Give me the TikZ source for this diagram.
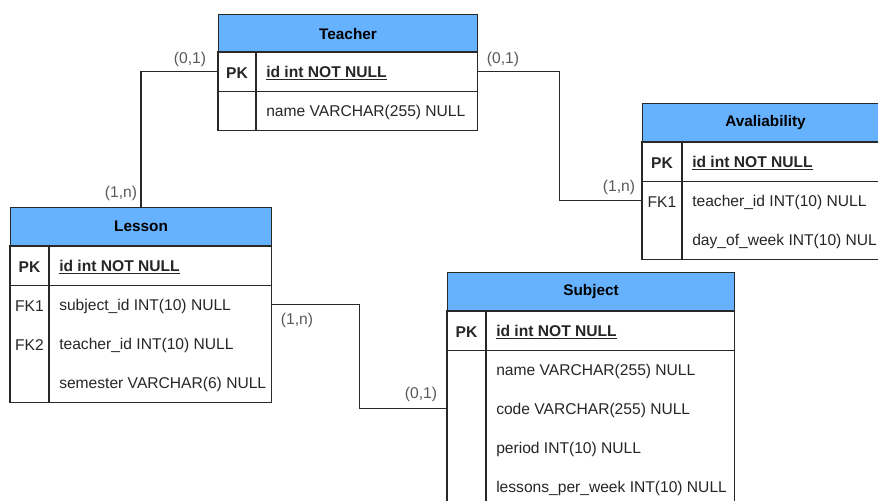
\documentclass[tikz,border=0pt]{standalone}
\usepackage{fontspec}
\setmainfont{Liberation Sans}
\definecolor{hdrblue}{RGB}{102,178,255}
\definecolor{linec}{RGB}{40,40,40}
\newcommand{\px}{0.75pt}
\newcommand{\erow}[7]{%
  \node[rowbox, minimum width=#4*\px] (#1) at (#2,#3) {};
  \node[keytxt, xshift=#5/2*\px] (#1k) at (#1.west) {#6};
  \node[fldtxt, xshift=(#5+10)*\px] (#1f) at (#1.west) {#7};
}
\tikzset{
  hdr/.style={draw=linec, fill=hdrblue, line width=0.8pt, minimum height=38*\px, inner sep=0pt, anchor=north west, font=\fontsize{11.5}{13}\selectfont\bfseries},
  rowbox/.style={minimum height=39*\px, inner sep=0pt, anchor=north west},
  keytxt/.style={font=\fontsize{11.7}{13}\selectfont, text=black!85, inner sep=0pt, yshift=-1.2pt},
  fldtxt/.style={font=\fontsize{11.7}{13}\selectfont, anchor=west, inner sep=0pt, text=black!85, yshift=-1.2pt},
  card/.style={font=\fontsize{11.7}{13}\selectfont, text=black!65, inner sep=0pt},
  conn/.style={draw=linec, line width=1pt},
  frame/.style={draw=linec, line width=0.8pt}
}
\begin{document}
\begin{tikzpicture}[x=0.75pt,y=-0.75pt]
\useasboundingbox (0,0) rectangle (878,500);
\clip (0,0) rectangle (878,500);
\fill[white] (0,0) rectangle (878,500);

% Teacher
\node[hdr, minimum width=259*\px] (teacher) at (218,14) {Teacher};
\erow{tpk}{218}{52}{259}{38}{\bfseries PK}{\bfseries\underline{id int NOT NULL}}
\erow{tname}{218}{91}{259}{38}{}{name VARCHAR(255) NULL}
\draw[frame] (tpk.north west) rectangle (tname.south east);
\draw[frame] (tpk.south west) -- (tpk.south east);
\draw[frame] ([xshift=38*\px]tpk.north west) -- ([xshift=38*\px]tname.south west);

% Lesson
\node[hdr, minimum width=261*\px] (lesson) at (10,207) {Lesson};
\erow{lpk}{10}{246}{261}{39}{\bfseries PK}{\bfseries\underline{id int NOT NULL}}
\erow{lsub}{10}{285}{261}{39}{FK1}{subject\_id INT(10) NULL}
\erow{lteach}{10}{324}{261}{39}{FK2}{teacher\_id INT(10) NULL}
\erow{lsem}{10}{363}{261}{39}{}{semester VARCHAR(6) NULL}
\draw[frame] (lpk.north west) rectangle (lsem.south east);
\draw[frame] (lpk.south west) -- (lpk.south east);
\draw[frame] ([xshift=39*\px]lpk.north west) -- ([xshift=39*\px]lsem.south west);

% Subject
\node[hdr, minimum width=287*\px] (subject) at (447,272) {Subject};
\erow{spk}{447}{311}{287}{39}{\bfseries PK}{\bfseries\underline{id int NOT NULL}}
\erow{sname}{447}{350}{287}{39}{}{name VARCHAR(255) NULL}
\erow{scode}{447}{389}{287}{39}{}{code VARCHAR(255) NULL}
\erow{sper}{447}{428}{287}{39}{}{period INT(10) NULL}
\erow{sles}{447}{467}{287}{39}{}{lessons\_per\_week INT(10) NULL}
\draw[frame] (spk.north west) rectangle (sles.south east);
\draw[frame] (spk.south west) -- (spk.south east);
\draw[frame] ([xshift=39*\px]spk.north west) -- ([xshift=39*\px]sles.south west);

% Avaliability
\node[hdr, minimum width=246*\px] (avail) at (642,103) {Avaliability};
\erow{apk}{642}{142}{246}{40}{\bfseries PK}{\bfseries\underline{id int NOT NULL}}
\erow{ateach}{642}{181}{246}{40}{FK1}{teacher\_id INT(10) NULL}
\erow{aday}{642}{220}{246}{40}{}{day\_of\_week INT(10) NULL}
\draw[frame] (apk.north west) rectangle (aday.south east);
\draw[frame] (apk.south west) -- (apk.south east);
\draw[frame] ([xshift=40*\px]apk.north west) -- ([xshift=40*\px]aday.south west);

% Connectors
\draw[conn] (tpk.west) -| (lesson.north);
\draw[conn] (tpk.east) -- ++(82,0) |- (ateach.west);
\draw[conn] (lsub.east) -- ++(88,0) |- (scode.west);

% Cardinalities
\node[card] (c1) at (190,59) {(0,1)};
\node[card] (c2) at (121,193) {(1,n)};
\node[card] (c3) at (503,59) {(0,1)};
\node[card] (c4) at (619,187) {(1,n)};
\node[card] (c5) at (297,320) {(1,n)};
\node[card] (c6) at (421,394) {(0,1)};
\end{tikzpicture}
\end{document}
